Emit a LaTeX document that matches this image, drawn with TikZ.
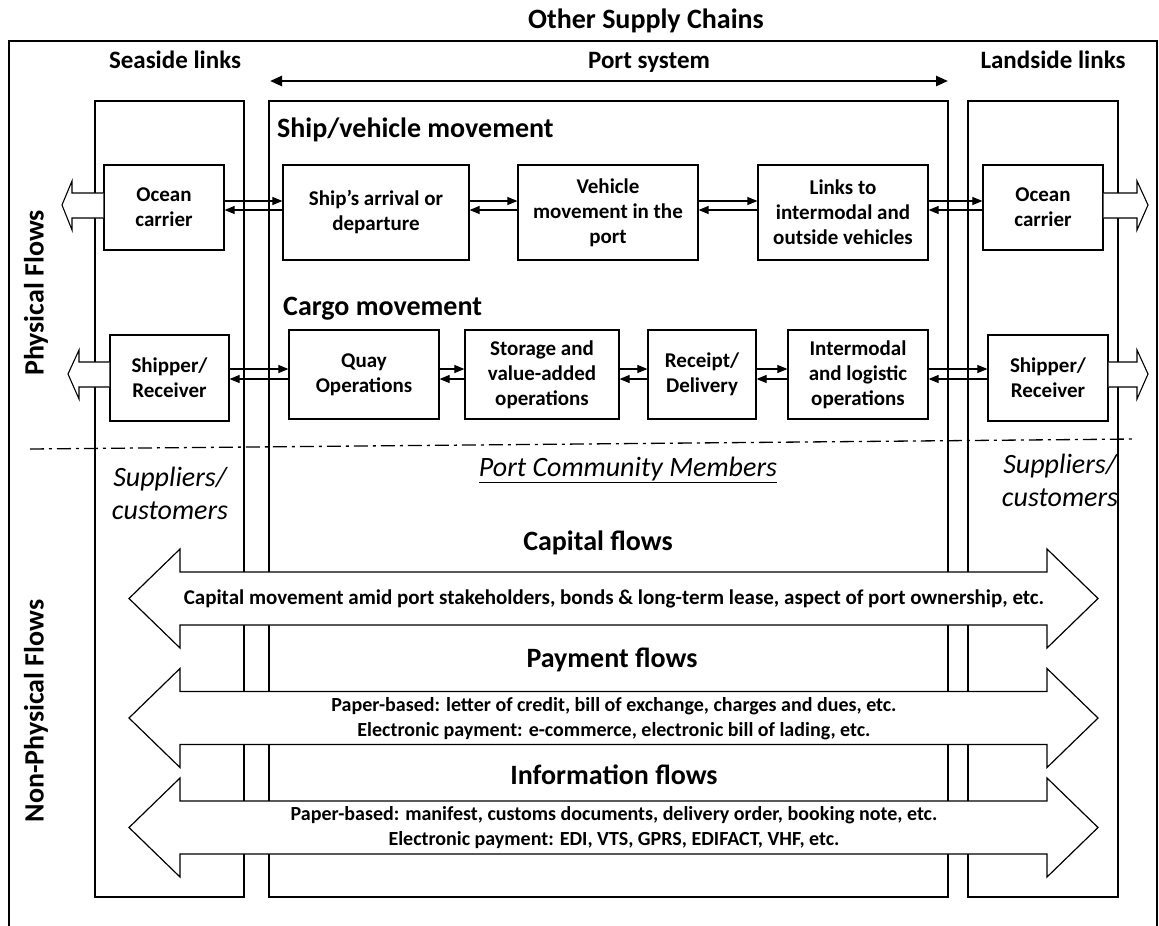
\documentclass[tikz,border=0pt]{standalone}
\usepackage{fontspec}
\setmainfont{Carlito}
\usetikzlibrary{arrows.meta,calc}
\begin{document}
\begin{tikzpicture}[x=1pt,y=-1pt,
  header/.style={font=\fontsize{25}{29}\selectfont\bfseries,inner sep=0pt,anchor=base},
  section/.style={font=\fontsize{28}{32}\selectfont\bfseries,inner sep=0pt},
  column/.style={draw,line width=1.1pt},
  procbox/.style={draw,line width=1.2pt,fill=white,align=center,inner sep=0pt,
    font=\fontsize{21}{25}\selectfont\bfseries},
  flowline/.style={line width=1.1pt,-{Triangle[length=10pt,width=8pt]}},
  hollow/.style={draw,line width=1.1pt,fill=white,line join=miter},
  bigflow/.style={draw,line width=1.2pt,fill=white,line join=miter},
  flowtext/.style={font=\fontsize{20}{25}\selectfont\bfseries,align=center,inner sep=0pt},
  stake/.style={font=\fontsize{28}{33}\selectfont\itshape,align=center,inner sep=0pt}]
\useasboundingbox (0,0) rectangle (1159,926);

% outer frame (open at the bottom)
\draw[line width=1.4pt] (9,940) -- (9,41) -- (1157,41) -- (1157,940);

% headings
\node[header,font=\fontsize{28}{32}\selectfont\bfseries] (other) at (646,28) {Other Supply Chains};
\node[header] (seahead) at (175,68) {Seaside links};
\node[header] (porthead) at (649,68) {Port system};
\node[header] (landhead) at (1053,68) {Landside links};
\coordinate (psL) at (270,81);
\coordinate (psR) at (948,81);
\draw[line width=2.5pt,{Triangle[length=12pt,width=10pt]}-{Triangle[length=12pt,width=10pt]}] (psL) -- (psR);

% three columns
\draw[column] (95,101) rectangle (244,897);
\draw[column] (269,101) rectangle (948,897);
\draw[column] (968,101) rectangle (1118,897);

% side labels
\node[section,rotate=90] (phys) at (36,293) {Physical Flows};
\node[section,rotate=90] (nonphys) at (36,711) {Non-Physical Flows};

% physical flows
\node[section,anchor=base west] (shiptitle) at (277,137) {Ship/vehicle movement};
\node[section,anchor=base west] (cargotitle) at (283,315) {Cargo movement};

\node[procbox,minimum width=120pt,minimum height=85pt] (oc1) at (164,207.5) {Ocean\\carrier};
\node[procbox,minimum width=186pt,minimum height=95pt] (arr) at (376,212.5) {Ship’s arrival or\\departure};
\node[procbox,minimum width=180pt,minimum height=95pt] (veh) at (608,212.5) {Vehicle\\movement in the\\port};
\node[procbox,minimum width=170pt,minimum height=95pt] (lnk) at (843,212.5) {Links to\\intermodal and\\outside vehicles};
\node[procbox,minimum width=120pt,minimum height=85pt] (oc2) at (1043,207.5) {Ocean\\carrier};

\node[procbox,minimum width=119pt,minimum height=86pt] (sh1) at (169.5,378) {Shipper/\\Receiver};
\node[procbox,minimum width=150pt,minimum height=89pt] (quay) at (364,374.5) {Quay\\Operations};
\node[procbox,minimum width=154pt,minimum height=89pt] (stor) at (542,374.5) {Storage and\\value-added\\operations};
\node[procbox,minimum width=108pt,minimum height=89pt] (rec) at (702,374.5) {Receipt/\\Delivery};
\node[procbox,minimum width=140pt,minimum height=89pt] (imod) at (858,374.5) {Intermodal\\and logistic\\operations};
\node[procbox,minimum width=120pt,minimum height=86pt] (sh2) at (1048,378) {Shipper/\\Receiver};

% paired links between the stages
\foreach \a/\b in {oc1/arr,arr/veh,veh/lnk,lnk/oc2}{
  \draw[flowline] (\a.east |- 0,201) -- (\b.west |- 0,201);
  \draw[flowline] (\b.west |- 0,210) -- (\a.east |- 0,210);
}
\foreach \a/\b in {sh1/quay,quay/stor,stor/rec,rec/imod,imod/sh2}{
  \draw[flowline] (\a.east |- 0,369) -- (\b.west |- 0,369);
  \draw[flowline] (\b.west |- 0,379) -- (\a.east |- 0,379);
}

% hollow arrows leaving the supply chain
\draw[hollow] (oc1.west |- 0,193) -- (72,193) -- (72,181) -- (62,205) -- (72,230) -- (72,218) -- (oc1.west |- 0,218);
\draw[hollow] (sh1.west |- 0,362) -- (79,362) -- (79,350) -- (68,374) -- (79,399) -- (79,387) -- (sh1.west |- 0,387);
\draw[hollow] (oc2.east |- 0,193) -- (1137,193) -- (1137,181) -- (1148,205) -- (1137,230) -- (1137,218) -- (oc2.east |- 0,218);
\draw[hollow] (sh2.east |- 0,362) -- (1137,362) -- (1137,350) -- (1148,374) -- (1137,399) -- (1137,387) -- (sh2.east |- 0,387);

% boundary between physical and non-physical flows
\coordinate (divL) at (30,449);
\coordinate (divR) at (1135,439);
\draw[line width=1.3pt,dash pattern=on 14pt off 5pt on 3pt off 5pt] (divL) -- (divR);

\node[stake] (sup1) at (170,493) {Suppliers/\\customers};
\node[stake] (sup2) at (1060,480) {Suppliers/\\customers};
\node[stake] (pcm) at (628,470) {\underline{Port Community Members}};

% non-physical flows
\foreach \cy in {598.5,718,827.5}{
  \draw[bigflow,shift={(0,\cy)}] (129,0) -- (180,-49.5) -- (180,-26.5) -- (1047,-26.5) -- (1047,-49.5)
    -- (1098,0) -- (1047,49.5) -- (1047,26.5) -- (180,26.5) -- (180,49.5) -- cycle;
}
\node[section] (captitle) at (598,543) {Capital flows};
\node[flowtext,font=\fontsize{21}{25}\selectfont\bfseries] (captext) at (614,599) {Capital movement amid port stakeholders, bonds \& long-term lease, aspect of port ownership, etc.};
\node[section] (paytitle) at (612,660) {Payment flows};
\node[flowtext] (paytext) at (614,718.5) {Paper-based: letter of credit, bill of exchange, charges and dues, etc.\\Electronic payment: e-commerce, electronic bill of lading, etc.};
\node[section] (inftitle) at (614,775) {Information flows};
\node[flowtext] (inftext) at (614,827.5) {Paper-based: manifest, customs documents, delivery order, booking note, etc.\\Electronic payment: EDI, VTS, GPRS, EDIFACT, VHF, etc.};
\end{tikzpicture}
\end{document}
